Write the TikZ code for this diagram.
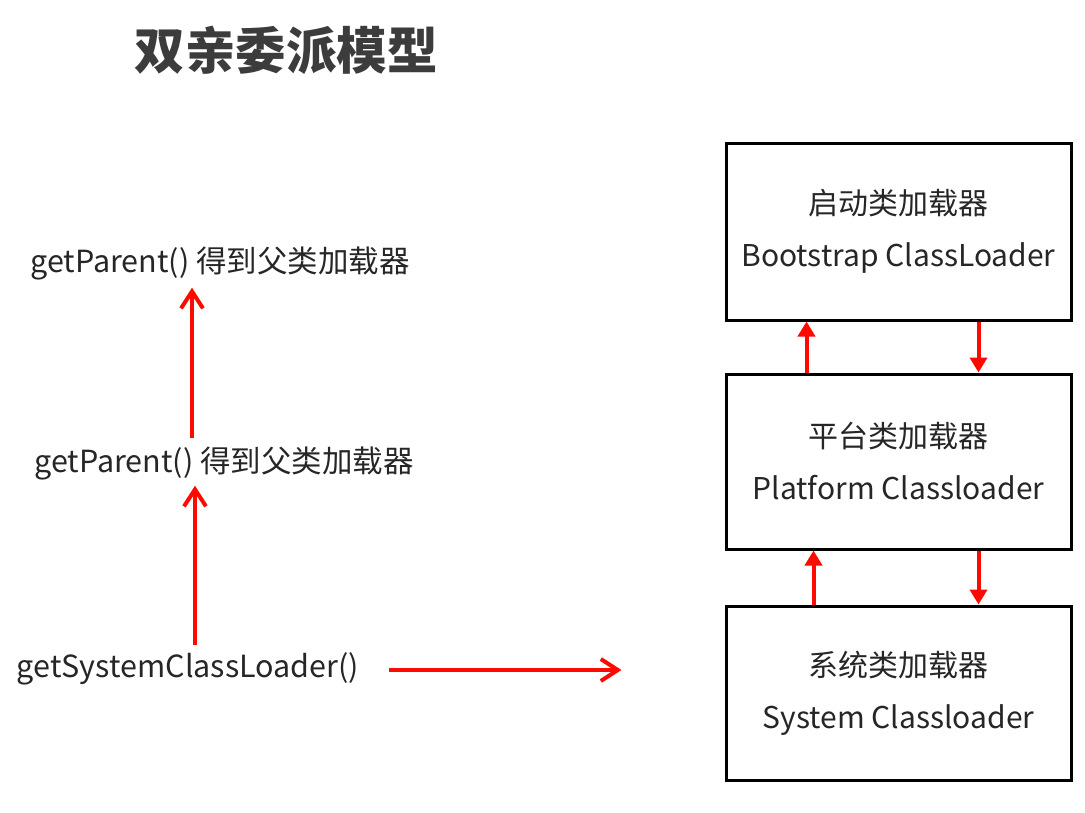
\documentclass[tikz,border=0pt]{standalone}
\usepackage{fontspec}
\setmainfont{Noto Sans CJK SC}
\usepackage{tikz}
\usetikzlibrary{calc,arrows.meta}
\definecolor{arrred}{RGB}{255,10,0}
\definecolor{txtgray}{RGB}{38,38,38}
\def\drawup{\draw[color=arrred, line width=4pt, -{Triangle[width=17pt,length=15pt]}]}
\def\drawcall{\draw[color=arrred, line width=4pt, -{Straight Barb[width=22pt,length=17pt,line width=4pt]}]}
\def\loadernode{\node[draw=black,line width=3pt,minimum width=345pt,align=center,font=\fontsize{30}{52}\selectfont,text=txtgray]}

\begin{document}
\begin{tikzpicture}[x=1pt,y=-1pt,
  label/.style={inner sep=0pt,text height=22pt,text depth=7pt,font=\fontsize{30.5}{34}\selectfont,text=txtgray}]
\useasboundingbox (0,0) rectangle (1085,812);

\node[font=\bfseries\fontsize{50.5}{58}\selectfont,text={rgb,255:red,60;green,60;blue,60}] (title) at (286,50) {双亲委派模型};

% -------- loader boxes ---------
\loadernode[minimum height=177pt] (boot) at (898.5,231.5) {启动类加载器\\Bootstrap ClassLoader};
\loadernode[minimum height=175pt] (plat) at (898.5,461.5) {平台类加载器\\Platform Classloader};
\loadernode[minimum height=174pt] (sys) at (898.5,693) {系统类加载器\\System Classloader};

\drawup ([xshift=-92pt]plat.north) -- ([xshift=-92pt]boot.south); % delegate up
\drawup ([xshift=80pt]boot.south) -- ([xshift=80pt]plat.north); % hand back down
\drawup ([xshift=-85pt]sys.north) -- ([xshift=-85pt]plat.south);
\drawup ([xshift=80pt]plat.south) -- ([xshift=80pt]sys.north);
% ------ end loader boxes ------

% -------- calls on the left ---------
\node[label] (gp1) at (220,265) {getParent() 得到父类加载器};
\node[label] (gp2) at (224,465) {getParent() 得到父类加载器};
\node[label] (gsl) at (188,670) {getSystemClassLoader()};

\drawcall[shorten <=12pt, shorten >=8pt] ([xshift=-32pt]gp2.north) -- ([xshift=-32pt]gp2.north |- gp1.south);
\drawcall[shorten <=10pt, shorten >=6pt] ([xshift=7pt]gsl.north) -- ([xshift=7pt]gsl.north |- gp2.south);
\drawcall[shorten <=30pt, shorten >=103pt] (gsl.east) -- (gsl.east -| sys.west);
\end{tikzpicture}
\end{document}
